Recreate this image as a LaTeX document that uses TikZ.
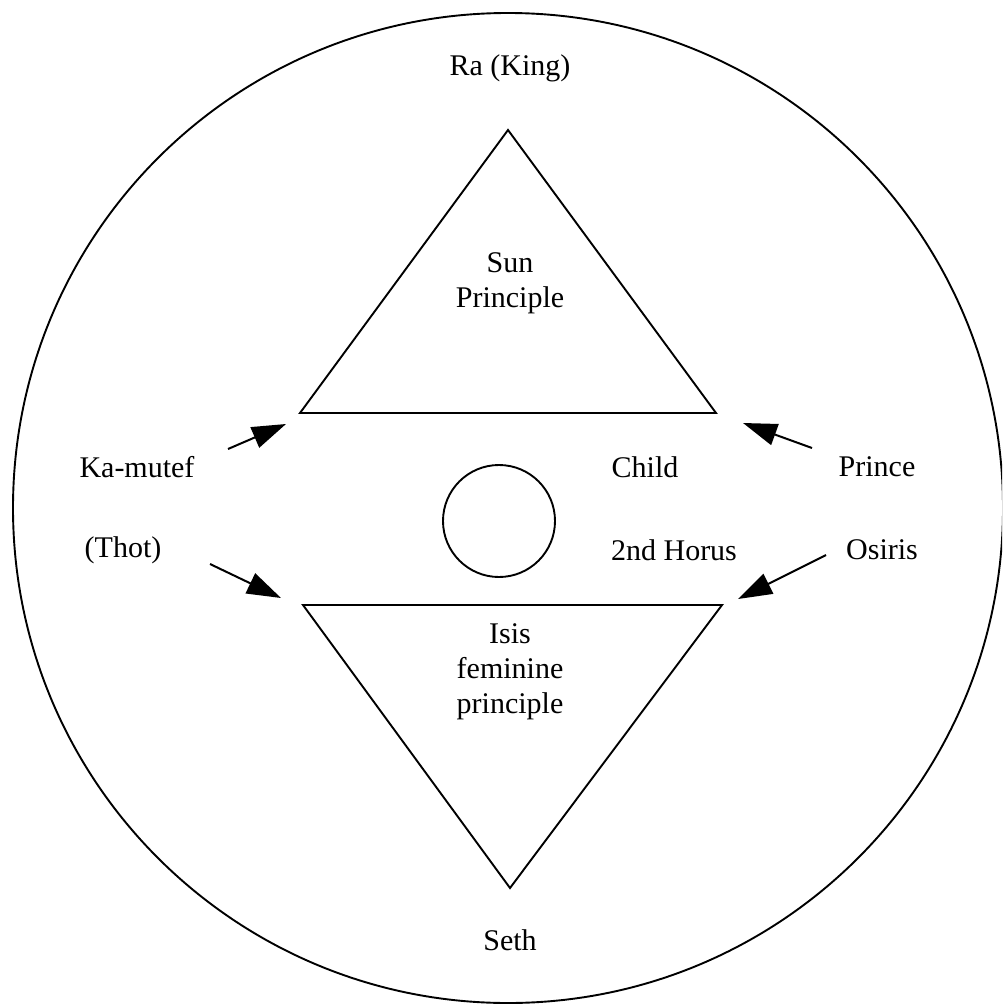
\documentclass[tikz,border=0pt]{standalone}
\usepackage{fontspec}
\setmainfont{Liberation Serif}
\usetikzlibrary{arrows.meta}
\begin{document}
\begin{tikzpicture}[x=1pt,y=-1pt,
  shape line/.style={draw=black,line width=1.9pt},
  lbl/.style={font=\fontsize{30}{35}\selectfont,inner sep=0pt,align=center},
  pointer/.style={line width=2pt,-{Triangle[length=34pt,width=22pt]}}]
\useasboundingbox (0,0) rectangle (1002,1006);
\clip (0,0) rectangle (1002,1006);
\draw[shape line] (508,508) circle (495);
% upper triangle
\coordinate (ua) at (508,130);
\coordinate (ul) at (300,413);
\coordinate (ur) at (716,413);
\draw[shape line,line join=miter] (ua) -- (ul) -- (ur) -- cycle;
% lower triangle
\coordinate (ll) at (303,605);
\coordinate (lr) at (722,605);
\coordinate (lb) at (510,888);
\draw[shape line,line join=miter] (ll) -- (lr) -- (lb) -- cycle;
% small circle
\node[shape line,circle,minimum size=112pt,inner sep=0pt] (child) at (499,521) {};
% labels
\node[lbl] (ra) at (510,68) {Ra (King)};
\node[lbl] (sun) at (510,283) {Sun\\Principle};
\node[lbl] (ka) at (137,467) {Ka-mutef};
\node[lbl] (ch) at (645,467) {Child};
\node[lbl] (pr) at (877,467) {Prince};
\node[lbl] (th) at (123,550) {(Thot)};
\node[lbl] (ho) at (674,550) {2nd Horus};
\node[lbl] (os) at (882,550) {Osiris};
\node[lbl] (isis) at (510,672) {Isis\\feminine\\principle};
\node[lbl] (seth) at (510,940) {Seth};
% arrow targets
\coordinate (kat) at (286,424);
\coordinate (tht) at (281,598);
\coordinate (prt) at (743,423);
\coordinate (ost) at (738,599);
\draw[pointer] (228,449) -- (kat);
\draw[pointer] (210,564) -- (tht);
\draw[pointer] (812,448) -- (prt);
\draw[pointer] (826,555) -- (ost);
\end{tikzpicture}
\end{document}
